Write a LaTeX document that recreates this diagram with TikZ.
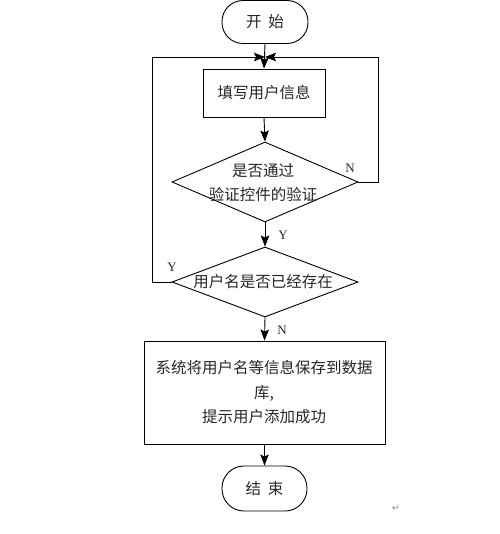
\documentclass[tikz,border=0pt]{standalone}
\usepackage{fontspec}
\usetikzlibrary{shapes.geometric,arrows.meta}
\newfontfamily\cjk{Noto Sans CJK SC}
\newfontfamily\latinserif{Liberation Serif}
\newfontfamily\symb{DejaVu Sans}
\begin{document}
\begin{tikzpicture}[x=1pt,y=-1pt,
  line width=0.9pt,
  every node/.style={font=\cjk\fontsize{15.5}{24.5}\selectfont, text=black!85},
  terminal/.style={draw, rectangle, rounded corners=21pt, minimum width=86pt, minimum height=43pt, inner sep=0pt},
  procbox/.style={draw, rectangle, inner sep=0pt, align=center},
  decision/.style={draw, diamond, inner sep=0pt, minimum width=186pt},
  yn/.style={font=\latinserif\fontsize{13}{13}\selectfont, inner sep=0pt},
  arr/.style={-{Stealth[length=11pt,width=8.5pt,inset=2pt]}}
]
\useasboundingbox (0,0) rectangle (499,534);
\node[terminal] (start) at (265,22) {开\ \ 始};
\node[procbox, minimum width=122pt, minimum height=48pt] (fill) at (264,93) {填写用户信息};
\node[decision, minimum height=80pt] (d1) at (265,182) {};
\node[align=center, inner sep=0pt] (d1t) at (263,182.5) {是否通过\\验证控件的验证};
\node[decision, minimum height=70pt] (d2) at (265,282) {};
\node[inner sep=0pt] (d2t) at (263,282) {用户名是否已经存在};
\node[procbox, minimum width=241pt, minimum height=103pt] (save) at (264.5,392.5) {};
\node[align=center, inner sep=0pt] (savet) at (264,392.5) {系统将用户名等信息保存到数据\\库,\\提示用户添加成功};
\node[terminal, minimum width=85pt, minimum height=45pt, rounded corners=22pt] (end) at (264.5,488.5) {结\ \ 束};
\coordinate (j) at (265,57);
\coordinate (rr) at (378,182);
\coordinate (ll) at (152,282);

\draw[arr] (start.south) -- (fill.north);
\draw[arr] (fill.south) -- (d1.north);
\draw[arr] (d1.south) -- (d2.north);
\draw[arr] (d2.south) -- (save.north);
\draw[arr] (save.south) -- (end.north);
\draw[arr] (d1.east) -- (rr) -- (rr |- j) -- (j);
\draw[arr] (d2.west) -- (ll) -- (ll |- j) -- (j);

\node[yn] (n1) at (350,168) {N};
\node[yn] (y1) at (283,235) {Y};
\node[yn] (y2) at (172,267) {Y};
\node[yn] (n2) at (282,330) {N};
\node[font=\symb\fontsize{10}{10}\selectfont, text=black!45, inner sep=0pt] (ret) at (396,508) {↵};
\end{tikzpicture}
\end{document}
